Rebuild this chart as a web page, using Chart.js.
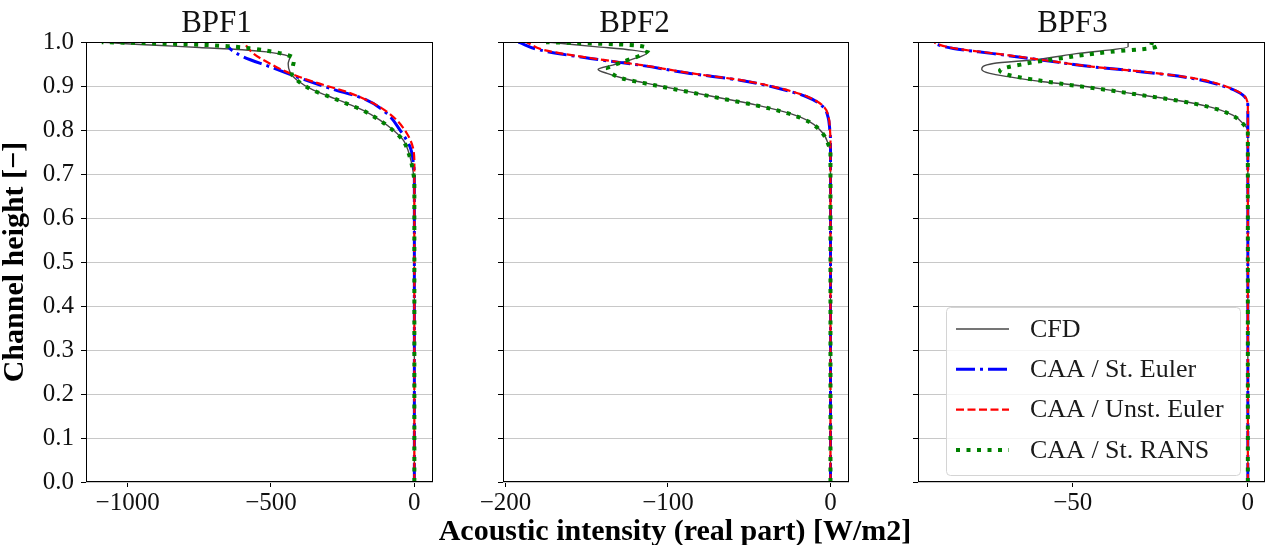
<!DOCTYPE html>
<html>
<head>
<meta charset="utf-8">
<script src="https://cdn.jsdelivr.net/npm/chart.js@4.4.1/dist/chart.umd.min.js"></script>
<style>
  body { margin: 0; background: #fff; }
  #wrap { position: relative; width: 1266px; height: 545px; overflow: hidden; }
  #wrap canvas { position: absolute; top: 0; }
</style>
</head>
<body>
<div id="wrap">
  <canvas id="c1" width="445" height="545" style="left:0px"></canvas>
  <canvas id="c2" width="510" height="545" style="left:420px"></canvas>
  <canvas id="c3" width="386" height="545" style="left:880px"></canvas>
</div>
<script>
// ---- data ----
var panelTitles = ['BPF1', 'BPF2', 'BPF3'];
var seriesLabels = ['CFD', 'CAA / St. Euler', 'CAA / Unst. Euler', 'CAA / St. RANS'];
var xAxisTitle = 'Acoustic intensity (real part) [W/m2]';
var yAxisTitle = 'Channel height [\u2212]';
var heightTicks = [0, 0.1, 0.2, 0.3, 0.4, 0.5, 0.6, 0.7, 0.8, 0.9, 1.0];
var bpf1Ticks = [-1000, -500, 0];
var bpf2Ticks = [-200, -100, 0];
var bpf3Ticks = [-50, 0];

// BPF1
var bpf1CfdY = [0, 0.5, 0.68, 0.70, 0.739, 0.777, 0.80, 0.823, 0.845, 0.861, 0.876, 0.891, 0.914, 0.9325, 0.951, 0.9666, 0.9735, 0.978, 0.983, 0.988, 0.993, 0.997, 1.0];
var bpf1CfdX = [0, 0, 0, -3, -15, -38, -73, -120, -178, -236, -294, -352, -410, -434, -440, -434, -470, -515, -600, -750, -900, -1020, -1090];
var bpf1EulerY = [0, 0.5, 0.70, 0.724, 0.762, 0.80, 0.838, 0.872, 0.895, 0.921, 0.944, 0.9666, 0.982, 0.99];
var bpf1EulerX = [0, 0, 0, -3, -15, -50, -96, -178, -294, -410, -503, -596, -637, -650];
var bpf1UnstY = [0, 0.5, 0.72, 0.7545, 0.7925, 0.830, 0.861, 0.887, 0.91, 0.9325, 0.951, 0.974, 1.0];
var bpf1UnstX = [0, 0, 0, -3, -26, -73, -143, -236, -352, -445, -503, -561, -596];
var bpf1RansY = [0, 0.5, 0.68, 0.70, 0.739, 0.777, 0.80, 0.823, 0.845, 0.861, 0.876, 0.891, 0.914, 0.93, 0.945, 0.958, 0.966, 0.972, 0.978, 0.985, 0.991, 0.995, 0.998, 1.0];
var bpf1RansX = [0, 0, 0, -3, -16, -40, -75, -122, -180, -238, -296, -354, -410, -428, -424, -420, -425, -450, -490, -560, -650, -780, -940, -1090];

// BPF2
var bpf2CfdY = [0, 0.5, 0.75, 0.77, 0.7925, 0.819, 0.838, 0.857, 0.872, 0.887, 0.902, 0.9175, 0.929, 0.938, 0.948, 0.96, 0.9757, 0.982, 0.99, 0.996, 1.0];
var bpf2CfdX = [0, 0, 0, -1.5, -4.5, -12.7, -25, -45.4, -66, -86.4, -107, -127, -137.5, -143, -134, -123, -113, -122, -145, -162, -173];
var bpf2EulerY = [0, 0.5, 0.78, 0.80, 0.830, 0.853, 0.876, 0.898, 0.9136, 0.929, 0.9477, 0.963, 0.982, 1.0];
var bpf2EulerX = [0, 0, 0, -0.4, -1.5, -4.5, -14.7, -35.2, -55.7, -86.4, -117, -147.8, -178.5, -192];
var bpf2UnstY = [0, 0.5, 0.78, 0.80, 0.830, 0.853, 0.876, 0.898, 0.9136, 0.929, 0.9477, 0.963, 0.982, 1.0];
var bpf2UnstX = [0, 0, 0, -0.3, -1.2, -4, -14, -34, -55, -85, -116, -146, -176, -187];
var bpf2RansY = [0, 0.5, 0.75, 0.77, 0.7925, 0.819, 0.838, 0.857, 0.872, 0.887, 0.902, 0.9175, 0.927, 0.94, 0.955, 0.97, 0.982, 0.99, 0.995, 0.998, 1.0];
var bpf2RansX = [0, 0, 0, -1.6, -4.8, -13.2, -26, -46.5, -67, -87.5, -108, -128, -134, -137, -128, -117, -112, -115, -130, -155, -175];

// BPF3
var bpf3CfdY = [0, 0.5, 0.78, 0.80, 0.811, 0.834, 0.853, 0.868, 0.8795, 0.891, 0.902, 0.91, 0.921, 0.929, 0.9386, 0.9515, 0.9606, 0.974, 0.9894, 1.0];
var bpf3CfdX = [0, 0, 0, 0, -0.9, -4.3, -10.9, -20.4, -30, -39.4, -49, -58.5, -68, -73.7, -76, -72.7, -60.4, -49, -34.2, -34.2];
var bpf3EulerY = [0, 0.5, 0.84, 0.853, 0.8795, 0.898, 0.9175, 0.9325, 0.944, 0.959, 0.974, 0.9856, 0.997, 1.0];
var bpf3EulerX = [0, 0, 0, 0, -1.4, -6.2, -15.7, -30, -44.2, -58.5, -72.7, -84.1, -89.4, -89.7];
var bpf3UnstY = [0, 0.5, 0.84, 0.853, 0.8795, 0.898, 0.9175, 0.9325, 0.944, 0.959, 0.974, 0.9856, 0.997, 1.0];
var bpf3UnstX = [0, 0, 0, 0, -1.2, -5.8, -15, -29.5, -44, -58, -72, -83.5, -89, -89.5];
var bpf3RansY = [0, 0.5, 0.78, 0.80, 0.811, 0.834, 0.853, 0.868, 0.8795, 0.891, 0.906, 0.925, 0.936, 0.9515, 0.963, 0.978, 0.9856, 0.993, 1.0];
var bpf3RansX = [0, 0, 0, 0, -1, -4.5, -11.2, -20.6, -30.3, -39.8, -53.7, -68, -70.8, -63.2, -53.7, -39.4, -28.5, -25.7, -28];

// ---- styles / layout ----
var serif = '"Liberation Serif", "DejaVu Serif", serif';
var lineStyles = [
    { color: 'rgba(0,0,0,0.72)', width: 1.4, dash: [], order: 4 },
    { color: '#0000ff', width: 3, dash: [19, 5, 3, 5], order: 3 },
    { color: '#ff0000', width: 2.2, dash: [8, 3.5], order: 2 },
    { color: '#008000', width: 4, dash: [4, 6.5], order: 1 }
];

var panels = [
    { id: 'c1', yWidth: 86, padRight: 12, xMin: -1145, xMax: 65, ticks: bpf1Ticks,
      series: [[bpf1CfdX, bpf1CfdY], [bpf1EulerX, bpf1EulerY], [bpf1UnstX, bpf1UnstY], [bpf1RansX, bpf1RansY]] },
    { id: 'c2', yWidth: 83, padRight: 81, xMin: -201.5, xMax: 11.4, ticks: bpf2Ticks,
      series: [[bpf2CfdX, bpf2CfdY], [bpf2EulerX, bpf2EulerY], [bpf2UnstX, bpf2UnstY], [bpf2RansX, bpf2RansY]] },
    { id: 'c3', yWidth: 38, padRight: 1, xMin: -94.2, xMax: 4.9, ticks: bpf3Ticks,
      series: [[bpf3CfdX, bpf3CfdY], [bpf3EulerX, bpf3EulerY], [bpf3UnstX, bpf3UnstY], [bpf3RansX, bpf3RansY]] }
];

function minus(v) {
    return String(v).replace('-', '\u2212');
}

// box around the axes, like matplotlib spines
var spinePlugin = {
    id: 'spines',
    afterDatasetsDraw: function(chart) {
        var a = chart.chartArea, ctx = chart.ctx;
        ctx.save();
        ctx.strokeStyle = '#000';
        ctx.lineWidth = 1;
        var l = Math.round(a.left) + 0.5, t = Math.round(a.top) + 0.5;
        var r = Math.round(a.right) - 0.5, b = Math.round(a.bottom) - 0.5;
        ctx.strokeRect(l, t, r - l, b - t);
        ctx.restore();
    }
};

// shared x label sits under the middle panel, wider than its axes
var xTitlePlugin = {
    id: 'xTitle',
    afterDraw: function(chart) {
        if (chart.canvas.id !== 'c2') return;
        var a = chart.chartArea, ctx = chart.ctx;
        ctx.save();
        ctx.fillStyle = '#000';
        ctx.font = 'bold 30px ' + serif;
        ctx.textAlign = 'center';
        ctx.textBaseline = 'alphabetic';
        ctx.fillText(xAxisTitle, (a.left + a.right) / 2 - 1, 540);
        ctx.restore();
    }
};

var legendPlugin = {
    id: 'boxLegend',
    afterDraw: function(chart) {
        if (chart.canvas.id !== 'c3') return;
        var a = chart.chartArea, ctx = chart.ctx;
        var w = 294, h = 168;
        var x0 = Math.round(a.right - 25 - w), y0 = Math.round(a.bottom - 7 - h);
        ctx.save();
        ctx.beginPath();
        if (ctx.roundRect) ctx.roundRect(x0 + 0.5, y0 + 0.5, w, h, 4);
        else ctx.rect(x0 + 0.5, y0 + 0.5, w, h);
        ctx.fillStyle = 'rgba(255,255,255,0.8)';
        ctx.fill();
        ctx.strokeStyle = '#d4d4d4';
        ctx.lineWidth = 1;
        ctx.stroke();
        chart.data.datasets.forEach(function(ds, i) {
            var y = y0 + 22 + i * 40.3;
            ctx.beginPath();
            ctx.setLineDash(ds.borderDash);
            ctx.strokeStyle = ds.borderColor;
            ctx.lineWidth = ds.borderWidth;
            ctx.moveTo(x0 + 10, y);
            ctx.lineTo(x0 + 63, y);
            ctx.stroke();
            ctx.setLineDash([]);
            ctx.fillStyle = '#1a1a1a';
            ctx.font = '26px ' + serif;
            ctx.textBaseline = 'middle';
            ctx.textAlign = 'left';
            ctx.fillText(ds.label, x0 + 84, y + 1);
        });
        ctx.restore();
    }
};

panels.forEach(function(p, idx) {
    var datasets = p.series.map(function(s, i) {
        var st = lineStyles[i];
        return {
            label: seriesLabels[i],
            data: s[1].map(function(y, k) { return { x: s[0][k], y: y }; }),
            showLine: true,
            borderColor: st.color,
            borderWidth: st.width,
            borderDash: st.dash,
            pointRadius: 0,
            fill: false,
            order: st.order,
            cubicInterpolationMode: 'monotone'
        };
    });

    new Chart(document.getElementById(p.id), {
        type: 'scatter',
        data: { datasets: datasets },
        plugins: [spinePlugin, xTitlePlugin, legendPlugin],
        options: {
            responsive: false,
            animation: false,
            indexAxis: 'y',
            layout: { padding: { left: 0, right: p.padRight, top: 0, bottom: 0 } },
            plugins: {
                legend: { display: false },
                tooltip: { enabled: false },
                title: {
                    display: true,
                    text: panelTitles[idx],
                    color: '#111',
                    font: { family: serif, size: 31, weight: 'normal' },
                    padding: { top: 5, bottom: 0 }
                }
            },
            scales: {
                x: {
                    type: 'linear',
                    min: p.xMin,
                    max: p.xMax,
                    afterBuildTicks: function(scale) {
                        scale.ticks = p.ticks.map(function(v) { return { value: v }; });
                    },
                    afterFit: function(scale) { scale.height = 63; },
                    border: { display: false },
                    grid: { drawOnChartArea: false, drawTicks: true, tickLength: 5, tickColor: '#000' },
                    ticks: {
                        autoSkip: false,
                        maxRotation: 0,
                        padding: 1,
                        color: '#111',
                        font: { family: serif, size: 25 },
                        callback: function(v) { return minus(v); }
                    }
                },
                y: {
                    type: 'linear',
                    min: 0,
                    max: 1,
                    afterBuildTicks: function(scale) {
                        scale.ticks = heightTicks.map(function(v) { return { value: v }; });
                    },
                    afterFit: function(scale) { scale.width = p.yWidth; },
                    border: { display: false },
                    grid: { color: '#c8c8c8', lineWidth: 1, drawTicks: true, tickLength: 5, tickColor: '#000' },
                    ticks: {
                        display: idx === 0,
                        padding: 7,
                        color: '#111',
                        font: { family: serif, size: 25 },
                        callback: function(v) { return v.toFixed(1); }
                    },
                    title: {
                        display: idx === 0,
                        text: yAxisTitle,
                        color: '#000',
                        font: { family: serif, size: 30, weight: 'bold', lineHeight: 1 },
                        padding: { top: 0, bottom: 0 }
                    }
                }
            }
        }
    });
});
</script>
</body>
</html>
